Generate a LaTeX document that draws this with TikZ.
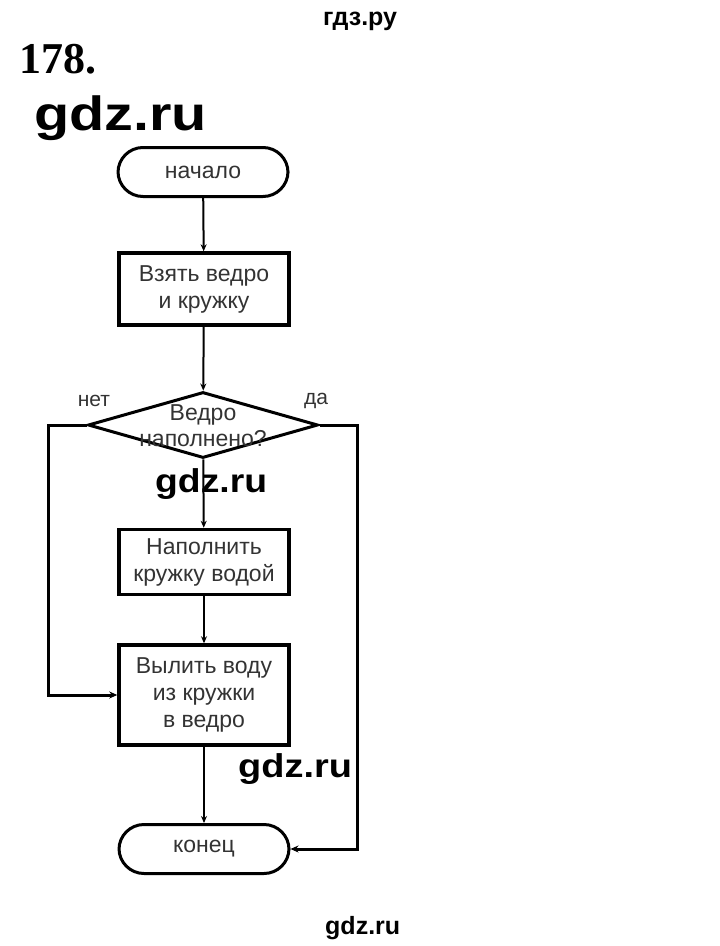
\documentclass[tikz,border=0pt]{standalone}
\usepackage{graphicx}
\usepackage{fontspec}
\setmainfont{Liberation Sans}
\newfontfamily\serifbold{Liberation Serif}
\usetikzlibrary{arrows.meta,shapes.geometric}
\definecolor{txt}{HTML}{333333}
\tikzset{
  term/.style={draw, line width=3pt, rounded corners=25pt, minimum width=170pt, minimum height=49pt, inner sep=0pt, text=txt, font=\fontsize{23}{27}\selectfont},
  proc/.style={draw, line width=3.5pt, minimum width=170pt, inner sep=0pt, align=center, text=txt, font=\fontsize{23}{27}\selectfont},
  conn/.style={line width=2pt, -{Stealth[length=7pt,width=6pt]}},
  loop/.style={line width=3pt, -{Stealth[length=8pt,width=7pt]}},
  lbl/.style={text=txt, font=\fontsize{21}{25}\selectfont},
  wm/.style={text=black, inner sep=0pt, anchor=base west}
}
\begin{document}
\begin{tikzpicture}[x=1pt,y=-1pt]
\useasboundingbox (0,0) rectangle (720,946);
\node[wm, font=\fontsize{25}{30}\selectfont\bfseries] (hdr) at (323,25) {гдз.ру};
\node[font=\fontsize{44}{50}\serifbold\bfseries, anchor=base west, inner sep=0pt] (num) at (19,73) {178.};
\node[wm, font=\fontsize{48}{56}\selectfont\bfseries] (wm1) at (34,130) {\scalebox{1.2}[1]{gdz.ru}};

\node[term] (start) at (203,172) {начало};
\node[proc, minimum height=72pt] (b1) at (204,289) {Взять ведро\\и кружку};
\node[diamond, draw, line width=3pt, aspect=3.48, minimum width=230pt, minimum height=66pt, inner sep=0pt] (dec) at (203,425) {};
\node[text=txt, font=\fontsize{23}{26}\selectfont, align=center] (dectext) at (203,426) {Ведро\\наполнено?};
\node[proc, minimum height=65pt] (b2) at (204,562) {Наполнить\\кружку водой};
\node[proc, minimum height=100pt] (b3) at (204,695) {Вылить воду\\из кружки\\в ведро};
\node[term] (end) at (204,849) {конец};

\node[lbl] (no) at (94,401) {нет};
\node[lbl] (yes) at (316,401) {да};

\draw[conn] (start) -- (b1);
\draw[conn] (b1) -- (dec);
\draw[conn] (dec) -- (b2);
\draw[conn] (b2) -- (b3);
\draw[conn] (b3) -- (end);
\draw[loop] (dec.west) -- ++(-38,0) |- (b3.west);
\draw[loop] (dec.east) -- ++(38,0) |- (end.east);

\node[wm, font=\fontsize{33}{38}\selectfont\bfseries] (wm2) at (155,492) {\scalebox{1.13}[1]{gdz.ru}};
\node[wm, font=\fontsize{33}{38}\selectfont\bfseries] (wm3) at (238,777) {\scalebox{1.15}[1]{gdz.ru}};
\node[wm, font=\fontsize{25}{30}\selectfont\bfseries] (wm4) at (325,934) {gdz.ru};
\end{tikzpicture}
\end{document}
